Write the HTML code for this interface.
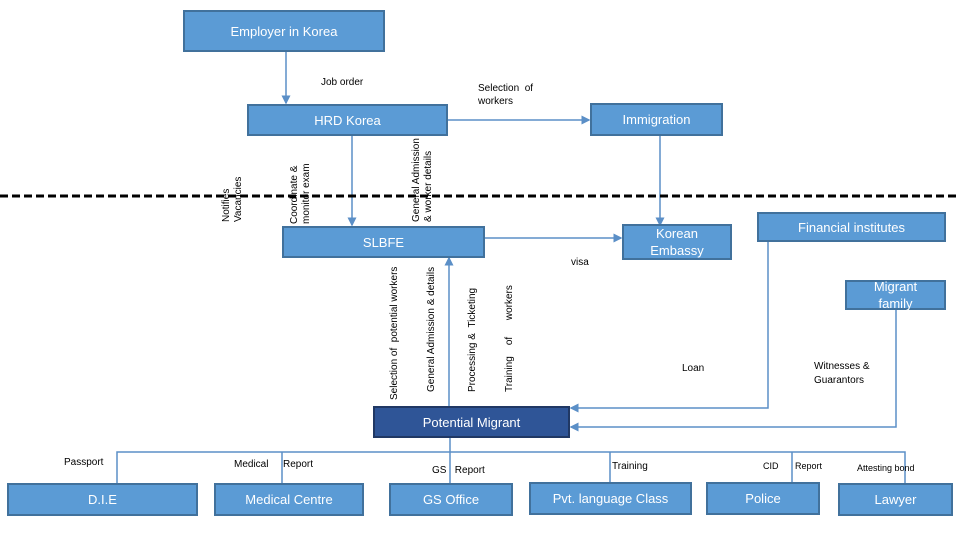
<!DOCTYPE html>
<html><head><style>
body{margin:0;width:960px;height:540px;background:#fff;position:relative;overflow:hidden;font-family:"Liberation Sans",sans-serif}
.b{position:absolute;background:#5b9bd5;border:2px solid #41719c;box-sizing:border-box;color:#fff;display:flex;align-items:center;justify-content:center;text-align:center;font-size:13px;line-height:17px}
.t{position:absolute;font-size:10px;color:#000;white-space:nowrap}
.r{position:absolute;font-size:10px;color:#000;white-space:nowrap;transform:rotate(-90deg);transform-origin:left top;line-height:12px}
</style></head><body>
<svg width="960" height="540" style="position:absolute;left:0;top:0">
<defs><marker id="a" markerWidth="6" markerHeight="6" refX="5" refY="3" orient="auto"><path d="M0,0L6,3L0,6z" fill="#5b8fc7"/></marker></defs>
<g stroke="#5b8fc7" stroke-width="1.5" fill="none">
<line x1="286" y1="52" x2="286" y2="103" marker-end="url(#a)"/>
<line x1="448" y1="120" x2="589" y2="120" marker-end="url(#a)"/>
<line x1="660" y1="136" x2="660" y2="225" marker-end="url(#a)"/>
<line x1="352" y1="135" x2="352" y2="225" marker-end="url(#a)"/>
<line x1="485" y1="238" x2="621" y2="238" marker-end="url(#a)"/>
<line x1="449" y1="406" x2="449" y2="258" marker-end="url(#a)"/>
<polyline points="768,242 768,408 571,408" marker-end="url(#a)"/>
<polyline points="896,310 896,427 571,427" marker-end="url(#a)"/>
<polyline points="117,483 117,452 905,452 905,483"/>
<line x1="450" y1="438" x2="450" y2="483"/>
<line x1="282" y1="452" x2="282" y2="483"/>
<line x1="610" y1="452" x2="610" y2="483"/>
<line x1="792" y1="452" x2="792" y2="483"/>
</g>
<line x1="0" y1="196" x2="960" y2="196" stroke="#000" stroke-width="3" stroke-dasharray="8,4"/>
</svg>
<div class="b" style="left:183px;top:10px;width:202px;height:42px">Employer in Korea</div>
<div class="b" style="left:247px;top:104px;width:201px;height:32px">HRD Korea</div>
<div class="b" style="left:590px;top:103px;width:133px;height:33px">Immigration</div>
<div class="b" style="left:282px;top:226px;width:203px;height:32px">SLBFE</div>
<div class="b" style="left:622px;top:224px;width:110px;height:36px">Korean<br>Embassy</div>
<div class="b" style="left:757px;top:212px;width:189px;height:30px">Financial institutes</div>
<div class="b" style="left:845px;top:280px;width:101px;height:30px">Migrant<br>family</div>
<div class="b" style="left:373px;top:406px;width:197px;height:32px;background:#2f5597;border-color:#203864">Potential Migrant</div>
<div class="b" style="left:7px;top:483px;width:191px;height:33px">D.I.E</div>
<div class="b" style="left:214px;top:483px;width:150px;height:33px">Medical Centre</div>
<div class="b" style="left:389px;top:483px;width:124px;height:33px">GS Office</div>
<div class="b" style="left:529px;top:482px;width:163px;height:33px">Pvt. language Class</div>
<div class="b" style="left:706px;top:482px;width:114px;height:33px">Police</div>
<div class="b" style="left:838px;top:483px;width:115px;height:33px">Lawyer</div>
<div class="t" style="left:321px;top:77px">Job order</div>
<div class="t" style="left:478px;top:82px;line-height:13px">Selection &nbsp;of<br>workers</div>
<div class="t" style="left:571px;top:257px">visa</div>
<div class="t" style="left:682px;top:363px">Loan</div>
<div class="t" style="left:814px;top:360px;line-height:14px">Witnesses &amp;<br>Guarantors</div>
<div class="t" style="left:64px;top:457px">Passport</div>
<div class="t" style="left:234px;top:459px">Medical</div>
<div class="t" style="left:283px;top:459px">Report</div>
<div class="t" style="left:432px;top:465px">GS &nbsp;&nbsp;Report</div>
<div class="t" style="left:612px;top:461px">Training</div>
<div class="t" style="left:763px;top:461px;font-size:9px">CID</div>
<div class="t" style="left:795px;top:461px;font-size:9px">Report</div>
<div class="t" style="left:857px;top:463px;font-size:9px">Attesting bond</div>
<div class="r" style="left:221px;top:222px">Notifies<br>Vacancies</div>
<div class="r" style="left:289px;top:224px">Coordinate &amp;<br>monitor exam</div>
<div class="r" style="left:411px;top:222px">General Admission<br>&amp; worker details</div>
<div class="r" style="left:389px;top:400px">Selection of &nbsp;potential workers</div>
<div class="r" style="left:426px;top:392px">General Admission &amp; details</div>
<div class="r" style="left:467px;top:392px">Processing &amp; &nbsp;Ticketing</div>
<div class="r" style="left:504px;top:392px">Training &nbsp;&nbsp;&nbsp;of &nbsp;&nbsp;&nbsp;&nbsp;&nbsp;workers</div>
</body></html>
